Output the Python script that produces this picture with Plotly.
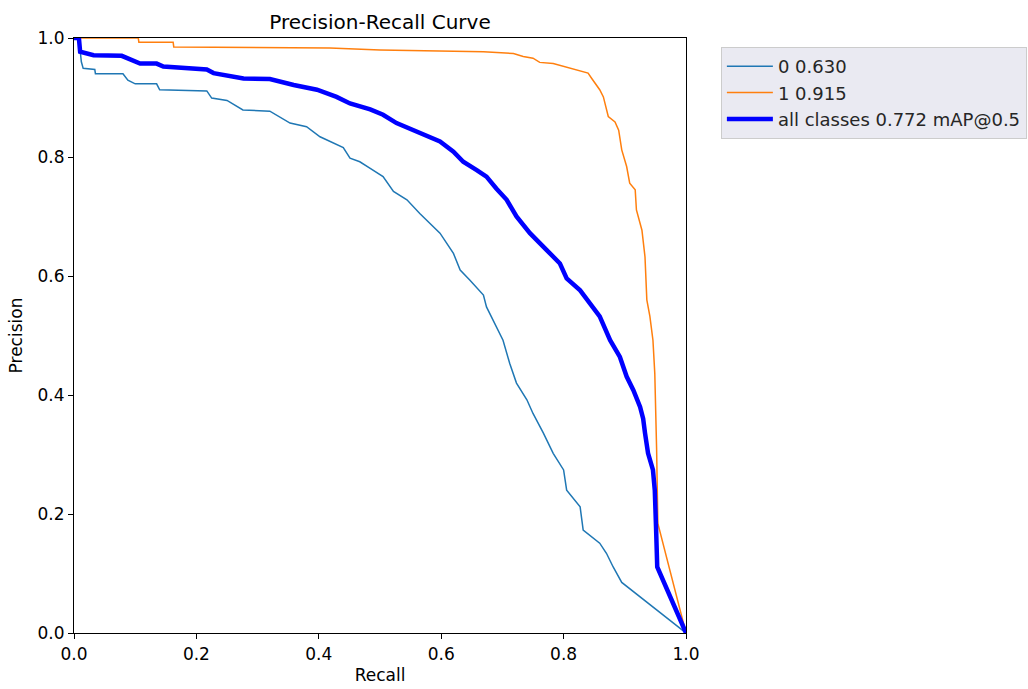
import plotly.graph_objects as go

# Class 0
recall_0 = [0, 0.008, 0.012, 0.015, 0.034, 0.035, 0.08, 0.088, 0.10, 0.135, 0.14, 0.217, 0.225, 0.25, 0.276,
            0.32, 0.353, 0.38, 0.402, 0.44, 0.451, 0.467, 0.484, 0.505, 0.522, 0.544, 0.565, 0.598, 0.62,
            0.631, 0.647, 0.669, 0.674, 0.69, 0.701, 0.712, 0.723, 0.74, 0.75, 0.767, 0.783, 0.80, 0.805,
            0.827, 0.832, 0.859, 0.870, 0.881, 0.895, 1.0]
precision_0 = [1.0, 1.0, 0.96, 0.949, 0.947, 0.94, 0.94, 0.929, 0.923, 0.923, 0.913, 0.911, 0.899, 0.895, 0.879,
               0.877, 0.857, 0.851, 0.834, 0.816, 0.798, 0.792, 0.781, 0.767, 0.742, 0.728, 0.705, 0.672, 0.638,
               0.610, 0.593, 0.568, 0.548, 0.515, 0.492, 0.453, 0.420, 0.392, 0.369, 0.336, 0.302, 0.274, 0.240,
               0.212, 0.173, 0.151, 0.134, 0.111, 0.085, 0.0]

# Class 1
recall_1 = [0, 0.105, 0.106, 0.162, 0.163, 0.418, 0.5, 0.669, 0.718, 0.734, 0.750, 0.761, 0.783, 0.810, 0.827,
            0.840, 0.846, 0.859, 0.865, 0.873, 0.884, 0.890, 0.895, 0.903, 0.908, 0.917, 0.919, 0.928, 0.933,
            0.936, 0.941, 0.946, 0.949, 0.951, 0.952, 0.954, 1.0]
precision_1 = [1.0, 1.0, 0.993, 0.993, 0.985, 0.983, 0.980, 0.977, 0.974, 0.969, 0.966, 0.959, 0.957, 0.949, 0.945,
               0.941, 0.932, 0.913, 0.901, 0.868, 0.859, 0.845, 0.812, 0.784, 0.756, 0.745, 0.711, 0.677, 0.632,
               0.560, 0.532, 0.492, 0.436, 0.358, 0.308, 0.184, 0.0]

# All classes
recall_all = [0, 0.008, 0.01, 0.032, 0.078, 0.092, 0.108, 0.135, 0.146, 0.217, 0.228, 0.277, 0.320, 0.359, 0.397,
              0.429, 0.451, 0.484, 0.505, 0.527, 0.549, 0.571, 0.598, 0.620, 0.636, 0.658, 0.674, 0.690, 0.707,
              0.723, 0.745, 0.772, 0.794, 0.805, 0.827, 0.843, 0.859, 0.876, 0.892, 0.903, 0.914, 0.925, 0.930,
              0.933, 0.938, 0.946, 0.949, 0.951, 0.953, 1.0]
precision_all = [1.0, 1.0, 0.977, 0.971, 0.970, 0.963, 0.957, 0.957, 0.952, 0.947, 0.941, 0.932, 0.931, 0.921, 0.913,
                 0.901, 0.890, 0.880, 0.871, 0.857, 0.848, 0.839, 0.826, 0.809, 0.792, 0.778, 0.767, 0.747, 0.728,
                 0.700, 0.672, 0.644, 0.621, 0.596, 0.576, 0.554, 0.532, 0.492, 0.464, 0.431, 0.408, 0.380, 0.360,
                 0.336, 0.302, 0.274, 0.240, 0.179, 0.111, 0.0]

names = ["0 0.630", "1 0.915", "all classes 0.772 mAP@0.5"]
tick_vals = [0.0, 0.2, 0.4, 0.6, 0.8, 1.0]

fig = go.Figure()
fig.add_trace(go.Scatter(x=recall_0, y=precision_0, mode="lines", name=names[0],
                         line=dict(color="#1f77b4", width=1.5)))
fig.add_trace(go.Scatter(x=recall_1, y=precision_1, mode="lines", name=names[1],
                         line=dict(color="#ff7f0e", width=1.5)))
fig.add_trace(go.Scatter(x=recall_all, y=precision_all, mode="lines", name=names[2],
                         line=dict(color="#0000ff", width=4.5)))

font_family = "DejaVu Sans"
axis_common = dict(range=[0, 1], tickvals=tick_vals, tickformat=".1f", showgrid=False, zeroline=False,
                   showline=True, linecolor="black", linewidth=1.2, mirror=True, ticks="outside",
                   ticklen=5, tickcolor="black", tickfont=dict(family=font_family, size=17, color="black"))

fig.update_layout(
    width=1028, height=689,
    margin=dict(l=74, r=342, t=38, b=56, autoexpand=False),
    paper_bgcolor="white", plot_bgcolor="white",
    title=dict(text="Precision-Recall Curve", x=380 / 1028, xanchor="center", y=1 - 22 / 689,
               yanchor="middle", font=dict(family=font_family, size=20, color="black")),
    xaxis=dict(**axis_common, title=dict(text="Recall", font=dict(family=font_family, size=17, color="black"),
                                         standoff=6)),
    yaxis=dict(**axis_common, title=dict(text="Precision", font=dict(family=font_family, size=17, color="black"),
                                         standoff=10)),
    legend=dict(x=1.057, y=0.985, xanchor="left", yanchor="top", bgcolor="#eaeaf2", bordercolor="#cccccc",
                borderwidth=1, font=dict(family=font_family, size=18, color="#262626"), itemwidth=46,
                tracegroupgap=0),
    showlegend=True,
)

fig.write_html("out.html", config={"displayModeBar": False},
               post_script="document.body.style.margin='0px';document.body.style.overflow='hidden';")
